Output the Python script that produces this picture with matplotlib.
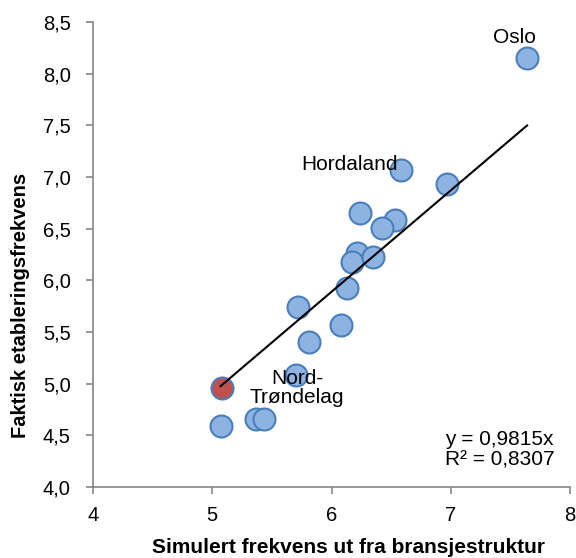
import matplotlib
matplotlib.use("Agg")
import matplotlib.pyplot as plt
import numpy as np

plt.rcParams['font.family'] = ['Liberation Sans', 'DejaVu Sans']

x_sim = [7.64, 6.58, 6.97, 6.24, 6.53, 6.42, 6.21, 6.17, 6.35, 6.13, 5.72, 6.08, 5.81, 5.70, 5.07, 5.37, 5.43]
y_act = [8.15, 7.07, 6.93, 6.65, 6.58, 6.51, 6.26, 6.18, 6.23, 5.93, 5.74, 5.57, 5.40, 5.08, 4.59, 4.66, 4.66]
x_hl = [5.08]
y_hl = [4.96]
slope = 0.9815
r2 = 0.8307
x_ticks = [4, 5, 6, 7, 8]
y_ticks = [4.0, 4.5, 5.0, 5.5, 6.0, 6.5, 7.0, 7.5, 8.0, 8.5]

fig = plt.figure(figsize=(5.76, 5.58), dpi=100)
ax = fig.add_axes([93/576, 1-487/558, (570-93)/576, (487-22)/558])

ax.scatter(x_sim, y_act, s=250, facecolor='#8db3e2', edgecolor='#4a7ebb', linewidth=1.5, zorder=3)
ax.scatter(x_hl, y_hl, s=250, facecolor='#c0504d', edgecolor='#4a7ebb', linewidth=1.5, zorder=3)

xs = np.array([min(x_hl + x_sim), max(x_sim)])
ax.plot(xs, slope * xs, color='black', linewidth=1.5, zorder=4)

ax.set_xlim(4, 8)
ax.set_ylim(4.0, 8.5)
ax.set_xticks(x_ticks)
ax.set_xticklabels([str(t) for t in x_ticks])
ax.set_yticks(y_ticks)
ax.set_yticklabels([f"{t:.1f}".replace('.', ',') for t in y_ticks])
for s in ['top', 'right']:
    ax.spines[s].set_visible(False)
for s in ['left', 'bottom']:
    ax.spines[s].set_color('#868686')
    ax.spines[s].set_linewidth(1.2)
ax.tick_params(axis='both', colors='#868686', labelcolor='black', labelsize=14.5, length=5, width=1.2)
ax.tick_params(axis='x', pad=9)
ax.tick_params(axis='y', pad=11)

ax.set_xlabel('Simulert frekvens ut fra bransjestruktur', fontsize=15, fontweight='bold', va='center')
ax.set_ylabel('Faktisk etableringsfrekvens', fontsize=14.5, fontweight='bold', va='center')
ax.xaxis.set_label_coords(0.535, -0.131)
ax.yaxis.set_label_coords(-0.153, 0.39)

ax.text(7.53, 8.35, 'Oslo', fontsize=15, ha='center', va='center')
ax.text(6.15, 7.12, 'Hordaland', fontsize=15, ha='center', va='center')
ax.text(5.71, 4.96, 'Nord-\nTrøndelag', fontsize=15, ha='center', va='center', linespacing=1.0)
ax.text(6.95, 4.36, f'y = {slope:.4f}x'.replace('.', ',') + '\n' + f'R² = {r2:.4f}'.replace('.', ','),
        fontsize=15, ha='left', va='center', linespacing=1.05)

fig.savefig('out.png', dpi=100)
